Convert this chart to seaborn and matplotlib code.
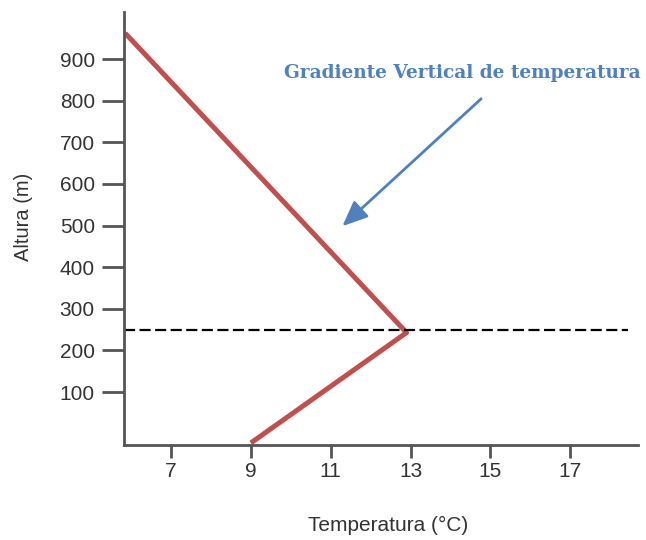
import matplotlib
matplotlib.use("Agg")
import matplotlib.pyplot as plt
import seaborn as sns
import pandas as pd

# profile values
temperatura = [9.0, 12.9, 5.85]
altura = [-22, 243, 962]
inversion_alt = 250
x_ticks = [7, 9, 11, 13, 15, 17]
y_ticks = [100, 200, 300, 400, 500, 600, 700, 800, 900]
note = "Gradiente Vertical de temperatura"

df = pd.DataFrame({"Temperatura": temperatura, "Altura": altura})

sns.set_style("white")
plt.rcParams['font.family'] = ['Liberation Sans', 'DejaVu Sans']

fig = plt.figure(figsize=(6.46, 5.40), dpi=100)
ax = fig.add_axes([124/646, 1-445/540, 514/646, 433/540])

sns.lineplot(data=df, x="Temperatura", y="Altura", sort=False, estimator=None,
             color="#C0504D", linewidth=3.6, ax=ax, solid_capstyle="butt")

ax.hlines(inversion_alt, 5.82, 18.45, colors="black", linestyles=(0, (5, 2)), linewidth=1.6)

ax.annotate("", xy=(11.24, 494), xytext=(14.82, 809),
            arrowprops=dict(arrowstyle="-|>,head_length=0.7,head_width=0.3",
                            color="#4F81BD", lw=2, mutation_scale=22))
ax.text(14.3, 867, note, ha="center", va="center", color="#4F81BD",
        fontsize=13.3, fontweight="bold", family="DejaVu Serif")

ax.set_xlim(5.82, 18.7)
ax.set_ylim(-27, 1013)
ax.set_xticks(x_ticks)
ax.set_yticks(y_ticks)
ax.tick_params(axis="y", direction="out", length=16, width=2, color="#555555",
               labelsize=15, pad=5, left=True, labelcolor="#333333")
ax.tick_params(axis="x", direction="out", length=9, width=2, color="#555555",
               labelsize=15, pad=3, bottom=True, labelcolor="#333333")

for s in ["top", "right"]:
    ax.spines[s].set_visible(False)
for s in ["left", "bottom"]:
    ax.spines[s].set_color("#555555")
    ax.spines[s].set_linewidth(2)

ax.set_xlabel("Temperatura (°C)", fontsize=15, color="#333333")
ax.set_ylabel("Altura (m)", fontsize=14.5, color="#333333")
ax.xaxis.set_label_coords(0.514, -0.163)
ax.yaxis.set_label_coords(-0.178, 0.527)

fig.savefig("out.png", dpi=100)
